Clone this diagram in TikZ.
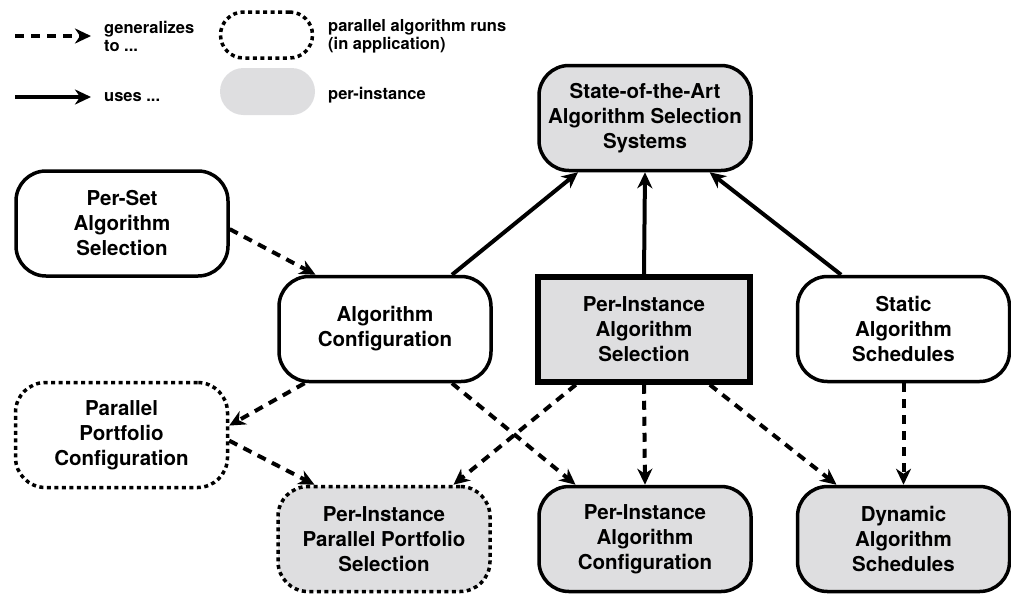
\documentclass[tikz,border=0pt]{standalone}
\usepackage{fontspec}
\setmainfont{TeX Gyre Heros}
\usepackage{tikz}
\usetikzlibrary{arrows.meta}
\definecolor{instgray}{RGB}{222, 222, 224}

\tikzset{
  box/.style={draw, line width=3.5pt, rounded corners=30pt,
    minimum width=212pt, minimum height=105pt, inner sep=0pt,
    align=center, font=\bfseries\fontsize{20.5}{25}\selectfont},
  perinst/.style={fill=instgray},
  parallel/.style={dash pattern=on 4pt off 3.5pt},
  gen/.style={-{Stealth[length=16pt, width=15pt, inset=5pt]},
    line width=4pt, dash pattern=on 9pt off 7pt},
  uses/.style={-{Stealth[length=16pt, width=15pt, inset=5pt]},
    line width=4pt},
  legend/.style={anchor=west, align=left, inner sep=0pt,
    font=\bfseries\fontsize{16.5}{18}\selectfont}
}

\begin{document}
\begin{tikzpicture}[x=1pt, y=-1pt]

  \useasboundingbox (0, 0) rectangle (1011, 595);

  % legend
  \coordinate (gen from) at (15, 36);
  \coordinate (gen to) at (91, 36);
  \coordinate (uses from) at (15, 97);
  \coordinate (uses to) at (91, 97);
  \draw[gen] (gen from) -- (gen to);
  \draw[uses] (uses from) -- (uses to);
  \node[legend] (gen text) at (104, 36) {generalizes\\to ...};
  \node[legend] (uses text) at (104, 97) {uses ...};
  \node[draw, parallel, line width=3.5pt, rounded corners=23pt,
    minimum width=92pt, minimum height=46pt] (par key) at (266.5, 35) {};
  \node[perinst, rounded corners=23.5pt,
    minimum width=95pt, minimum height=47pt] (inst key) at (267.5, 91.5) {};
  \node[legend] (par text) at (328, 36) {parallel algorithm runs\\(in application)};
  \node[legend] (inst text) at (328, 95) {per-instance};

  % nodes
  \node[box, perinst] (sota) at (645, 118) {State-of-the-Art\\Algorithm Selection\\Systems};
  \node[box] (perset) at (122, 223.5) {Per-Set\\Algorithm\\Selection};
  \node[box] (algconf) at (385, 329) {Algorithm\\Configuration};
  \node[box, perinst, rounded corners=0pt, line width=5.5pt] (pias) at (644, 329.5)
    {Per-Instance\\Algorithm\\Selection};
  \node[box] (static) at (903.5, 329) {Static\\Algorithm\\Schedules};
  \node[box, parallel] (ppc) at (121.5, 435) {Parallel\\Portfolio\\Configuration};
  \node[box, perinst, parallel] (pipps) at (384, 539)
    {Per-Instance\\Parallel Portfolio\\Selection};
  \node[box, perinst] (piac) at (645, 539) {Per-Instance\\Algorithm\\Configuration};
  \node[box, perinst] (dyn) at (903.5, 539) {Dynamic\\Algorithm\\Schedules};

  % uses
  \draw[uses] (algconf.39) -- (sota.219);
  \draw[uses] (pias.north) -- (sota.south);
  \draw[uses] (static.139) -- (sota.320);

  % generalizes to
  \draw[gen] (perset.-3) -- (algconf.142);
  \draw[gen] (algconf.214) -- (ppc.5);
  \draw[gen] (ppc.-3) -- (pipps.142);
  \draw[gen] (pias.219) -- (pipps.38);
  \draw[gen] (algconf.321) -- (piac.142);
  \draw[gen] (pias.south) -- (piac.north);
  \draw[gen] (pias.320) -- (dyn.141);
  \draw[gen] (static.south) -- (dyn.north);

\end{tikzpicture}
\end{document}
